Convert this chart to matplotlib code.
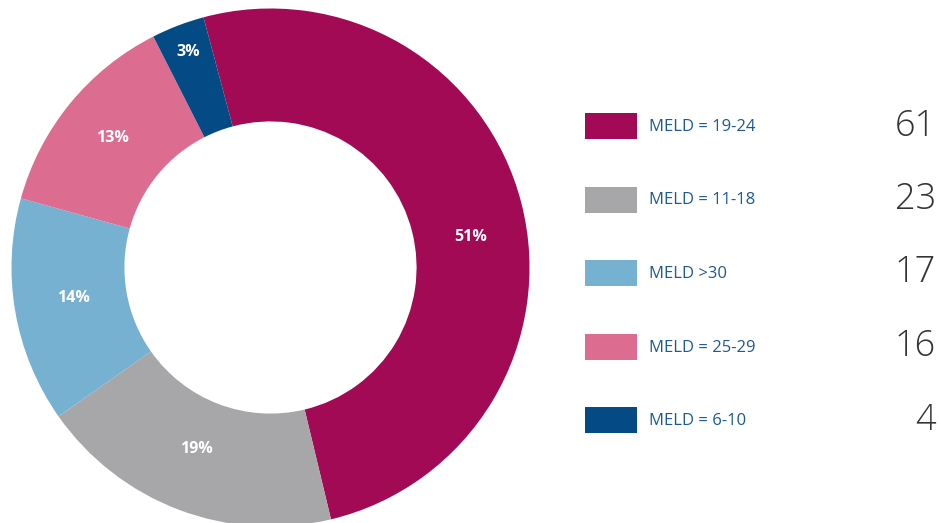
import matplotlib.pyplot as plt
import numpy as np
from matplotlib.patches import Rectangle

LABELS = ["MELD = 19-24", "MELD = 11-18", "MELD >30", "MELD = 25-29", "MELD = 6-10"]
COUNTS = [61, 23, 17, 16, 4]
PCT_TEXT = ["51%", "19%", "14%", "13%", "3%"]
COLORS = ["#A20A55", "#A7A7AA", "#77B1D1", "#DC6D91", "#044A85"]

W, H = 939, 523

plt.rcParams["font.family"] = ["Open Sans", "DejaVu Sans"]
fig = plt.figure(figsize=(W / 100, H / 100), dpi=100)

# donut: centre (270.5, 267.5) px, radius 259 px
cx, cy, r = 270.5, 267.5, 259
ax = fig.add_axes([(cx - r) / W, (H - cy - r) / H, 2 * r / W, 2 * r / H])
wedges, _ = ax.pie(
    COUNTS,
    colors=COLORS,
    startangle=105,
    counterclock=False,
    radius=1.0,
    wedgeprops={"width": 0.436, "linewidth": 0},
)

# label placement tweaks (radius fraction, angle shift in degrees)
label_r = [0.78, 0.757, 0.768, 0.788, 0.89]
label_shift = [-5.5, -1.5, -1.0, 0, 0]
for w, txt, lr, sh in zip(wedges, PCT_TEXT, label_r, label_shift):
    ang = np.deg2rad((w.theta1 + w.theta2) / 2 + sh)
    ax.text(lr * np.cos(ang), lr * np.sin(ang), txt, ha="center", va="center",
            color="white", fontsize=11.5, fontweight="bold")
ax.set_xlim(-1, 1)
ax.set_ylim(-1, 1)
ax.set_aspect("equal")
ax.axis("off")

# legend
lax = fig.add_axes([0, 0, 1, 1])
lax.set_xlim(0, W)
lax.set_ylim(H, 0)
lax.axis("off")
row_y = [126, 199.5, 273, 346.5, 420]
for y, label, count, color in zip(row_y, LABELS, COUNTS, COLORS):
    lax.add_patch(Rectangle((585, y - 13), 52, 26, facecolor=color, edgecolor="none"))
    lax.text(649, y + 1, label, ha="left", va="center", fontsize=12, color="#1C5A94")
    lax.text(936, y, str(count), ha="right", va="center", fontsize=26, color="#333333",
             fontweight="light")

fig.savefig("out.png", dpi=100)
